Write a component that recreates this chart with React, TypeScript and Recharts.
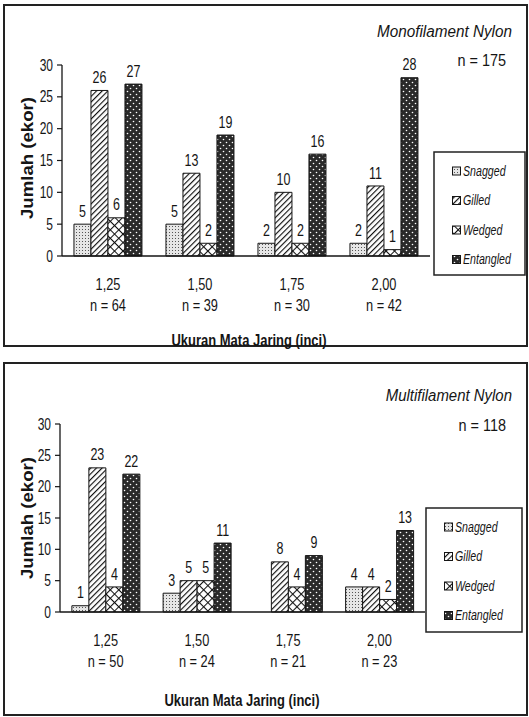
import React from "react";
import { BarChart, Bar, XAxis, YAxis, LabelList, Label } from "recharts";

const categories = ["1,25", "1,50", "1,75", "2,00"];
const seriesNames = ["Snagged", "Gilled", "Wedged", "Entangled"];
const yTicks = [0, 5, 10, 15, 20, 25, 30];
const boundaryTicks = [0, 1, 2, 3, 4];

const monoTotal = 175;
const monoN = [64, 39, 30, 42];
const monoSnagged = [5, 5, 2, 2];
const monoGilled = [26, 13, 10, 11];
const monoWedged = [6, 2, 2, 1];
const monoEntangled = [27, 19, 16, 28];

const multiTotal = 118;
const multiN = [50, 24, 21, 23];
const multiSnagged = [1, 3, 0, 4];
const multiGilled = [23, 5, 8, 4];
const multiWedged = [4, 5, 4, 2];
const multiEntangled = [22, 11, 9, 13];

const FONT = "'Liberation Sans', Arial, sans-serif";
const INK = "#151515";

const keys = ["snagged", "gilled", "wedged", "entangled"];
const patternIds = ["p-snag", "p-gill", "p-wedge", "p-ent"];

function buildRows(s: number[], g: number[], w: number[], e: number[]) {
  return categories.map((cat, i) => ({
    cat,
    snagged: s[i],
    gilled: g[i],
    wedged: w[i],
    entangled: e[i],
  }));
}

// condensed text: Liberation Sans squeezed horizontally, like Arial Narrow
function NText(props: {
  x: number;
  y: number;
  anchor?: "start" | "middle" | "end";
  size?: number;
  sx?: number;
  bold?: boolean;
  italic?: boolean;
  children: React.ReactNode;
}) {
  const { x, y, anchor = "middle", size = 15, sx = 0.8, bold, italic, children } = props;
  return (
    <text
      transform={`translate(${x} ${y}) scale(${sx} 1)`}
      textAnchor={anchor}
      dominantBaseline="central"
      fill={INK}
      fontSize={size}
      fontFamily={FONT}
      fontWeight={bold ? "bold" : "normal"}
      fontStyle={italic ? "italic" : "normal"}
    >
      {children}
    </text>
  );
}

function Patterns({ prefix }: { prefix: string }) {
  return (
    <defs>
      <pattern id={prefix + "p-snag"} width="3" height="3" patternUnits="userSpaceOnUse">
        <rect width="3" height="3" fill="#e6e6e6" />
        <rect x="1" y="1" width="1" height="1" fill="#555" />
      </pattern>
      <pattern id={prefix + "p-gill"} width="4" height="4" patternUnits="userSpaceOnUse" patternTransform="rotate(45)">
        <rect width="4" height="4" fill="#fff" />
        <line x1="0.5" y1="0" x2="0.5" y2="4" stroke="#111" strokeWidth="1.3" />
      </pattern>
      <pattern id={prefix + "p-wedge"} width="6" height="6" patternUnits="userSpaceOnUse" patternTransform="rotate(45)">
        <rect width="6" height="6" fill="#fff" />
        <line x1="0.5" y1="0" x2="0.5" y2="6" stroke="#111" strokeWidth="1.1" />
        <line x1="0" y1="0.5" x2="6" y2="0.5" stroke="#111" strokeWidth="1.1" />
      </pattern>
      <pattern id={prefix + "p-ent"} width="6" height="6" patternUnits="userSpaceOnUse">
        <rect width="6" height="6" fill="#2a2a2a" />
        <circle cx="1.5" cy="1.5" r="0.8" fill="#fff" />
        <circle cx="4.5" cy="4.5" r="0.8" fill="#fff" />
      </pattern>
    </defs>
  );
}

type PanelProps = {
  prefix: string;
  title: string;
  titleScale: number;
  total: number;
  nVals: number[];
  rows: ReturnType<typeof buildRows>;
  top: number;
  height: number;
  box: { left: number; top: number; width: number; height: number };
  margin: { top: number; right: number; left: number; bottom: number };
  yAxisWidth: number;
  xAxisHeight: number;
  titleY: number;
  nY: number;
  legend: { left: number; top: number; width: number; height: number };
  xTitle: { x: number; y: number };
  yTitle: { x: number; y: number };
};

function Panel(p: PanelProps) {
  const renderXTick = (props: any) => {
    const { x, y, payload } = props;
    const idx = payload.index ?? props.index ?? 0;
    return (
      <g>
        <NText x={x} y={y + 20} size={16}>{payload.value}</NText>
        <NText x={x} y={y + 41} size={16}>{"n = " + p.nVals[idx]}</NText>
      </g>
    );
  };

  const renderYTick = (props: any) => {
    const { x, y, payload } = props;
    return (
      <NText x={x} y={y} anchor="end" size={16} sx={0.75}>
        {payload.value}
      </NText>
    );
  };

  const renderBarLabel = (props: any) => {
    const { x, y, width, value } = props;
    return (
      <NText x={Number(x) + Number(width) / 2} y={Number(y) - 13} size={16} sx={0.78}>
        {value}
      </NText>
    );
  };

  const lt = p.legend;

  return (
    <>
      <div
        style={{
          position: "absolute",
          left: p.box.left,
          top: p.box.top,
          width: p.box.width,
          height: p.box.height,
          border: "2px solid #222",
          boxSizing: "border-box",
        }}
      />
      <div style={{ position: "absolute", left: 0, top: p.top }}>
        <BarChart
          width={529}
          height={p.height}
          data={p.rows}
          margin={p.margin}
          barGap={0}
          barCategoryGap="13%"
        >
          <Patterns prefix={p.prefix} />
          <XAxis
            xAxisId="b"
            type="number"
            domain={[0, 4]}
            ticks={boundaryTicks}
            tick={false}
            axisLine={false}
            tickLine={{ stroke: INK, strokeWidth: 1.2 }}
            tickSize={5}
            height={0}
          />
          <XAxis
            dataKey="cat"
            tickLine={false}
            axisLine={{ stroke: INK, strokeWidth: 1.3 }}
            tick={renderXTick}
            height={p.xAxisHeight}
            interval={0}
          >
            <Label
              content={() => (
                <text
                  x={p.xTitle.x}
                  y={p.xTitle.y - p.top}
                  textAnchor="middle"
                  dominantBaseline="central"
                  fill={INK}
                  fontSize={16}
                  fontWeight="bold"
                  fontFamily={FONT}
                  textLength={155}
                  lengthAdjust="spacingAndGlyphs"
                >
                  Ukuran Mata Jaring (inci)
                </text>
              )}
            />
          </XAxis>
          <YAxis
            domain={[0, 30]}
            ticks={yTicks}
            width={p.yAxisWidth}
            tickSize={5}
            tickMargin={4}
            interval={0}
            axisLine={{ stroke: INK, strokeWidth: 1.3 }}
            tickLine={{ stroke: INK, strokeWidth: 1.2 }}
            tick={renderYTick}
          >
            <Label
              content={() => (
                <text
                  x={p.yTitle.x}
                  y={p.yTitle.y - p.top}
                  transform={`rotate(-90 ${p.yTitle.x} ${p.yTitle.y - p.top})`}
                  textAnchor="middle"
                  dominantBaseline="central"
                  fill={INK}
                  fontSize={16}
                  fontWeight="bold"
                  fontFamily={FONT}
                  textLength={122}
                  lengthAdjust="spacingAndGlyphs"
                >
                  Jumlah (ekor)
                </text>
              )}
            />
          </YAxis>
          {keys.map((k, i) => (
            <Bar
              key={k}
              dataKey={k}
              name={seriesNames[i]}
              fill={`url(#${p.prefix}${patternIds[i]})`}
              stroke={INK}
              strokeWidth={1}
              isAnimationActive={false}
            >
              <LabelList dataKey={k} content={renderBarLabel} />
            </Bar>
          ))}
        </BarChart>
      </div>
      <svg
        width={529}
        height={717}
        style={{ position: "absolute", left: 0, top: 0, pointerEvents: "none" }}
      >
        <NText x={512} y={p.titleY} anchor="end" size={17} sx={p.titleScale} italic>
          {p.title}
        </NText>
        <NText x={506} y={p.nY} anchor="end" size={17} sx={0.85}>
          {"n = " + p.total}
        </NText>
        <rect
          x={lt.left}
          y={lt.top}
          width={lt.width}
          height={lt.height}
          fill="#fff"
          stroke="#222"
          strokeWidth={1.5}
        />
        {seriesNames.map((name, i) => {
          const cy = lt.top + 19 + i * 29.5;
          return (
            <g key={name}>
              <rect
                x={lt.left + 18.5}
                y={cy - 4}
                width={8}
                height={8}
                fill={`url(#${p.prefix}${patternIds[i]})`}
                stroke={INK}
                strokeWidth={1}
              />
              <NText x={lt.left + 29} y={cy} anchor="start" size={14} sx={0.76} italic>
                {name}
              </NText>
            </g>
          );
        })}
      </svg>
    </>
  );
}

export default function App() {
  const monoRows = buildRows(monoSnagged, monoGilled, monoWedged, monoEntangled);
  const multiRows = buildRows(multiSnagged, multiGilled, multiWedged, multiEntangled);

  return (
    <div style={{ position: "absolute", left: 0, top: 0, width: 529, height: 717, background: "#fff" }}>
      <Panel
        prefix="a-"
        title="Monofilament Nylon"
        titleScale={0.9}
        total={monoTotal}
        nVals={monoN}
        rows={monoRows}
        top={0}
        height={360}
        box={{ left: 3, top: 4, width: 525, height: 343 }}
        margin={{ top: 65, right: 99, left: 0, bottom: 0 }}
        yAxisWidth={62}
        xAxisHeight={104}
        titleY={31}
        nY={60}
        legend={{ left: 434, top: 152, width: 91, height: 123 }}
        xTitle={{ x: 249, y: 340 }}
        yTitle={{ x: 27, y: 158 }}
      />
      <Panel
        prefix="b-"
        title="Multifilament Nylon"
        titleScale={0.88}
        total={multiTotal}
        nVals={multiN}
        rows={multiRows}
        top={360}
        height={357}
        box={{ left: 3, top: 362, width: 525, height: 354 }}
        margin={{ top: 64, right: 104, left: 0, bottom: 0 }}
        yAxisWidth={60}
        xAxisHeight={105}
        titleY={395}
        nY={425}
        legend={{ left: 426, top: 508, width: 96, height: 124 }}
        xTitle={{ x: 242, y: 700 }}
        yTitle={{ x: 27, y: 518 }}
      />
    </div>
  );
}
